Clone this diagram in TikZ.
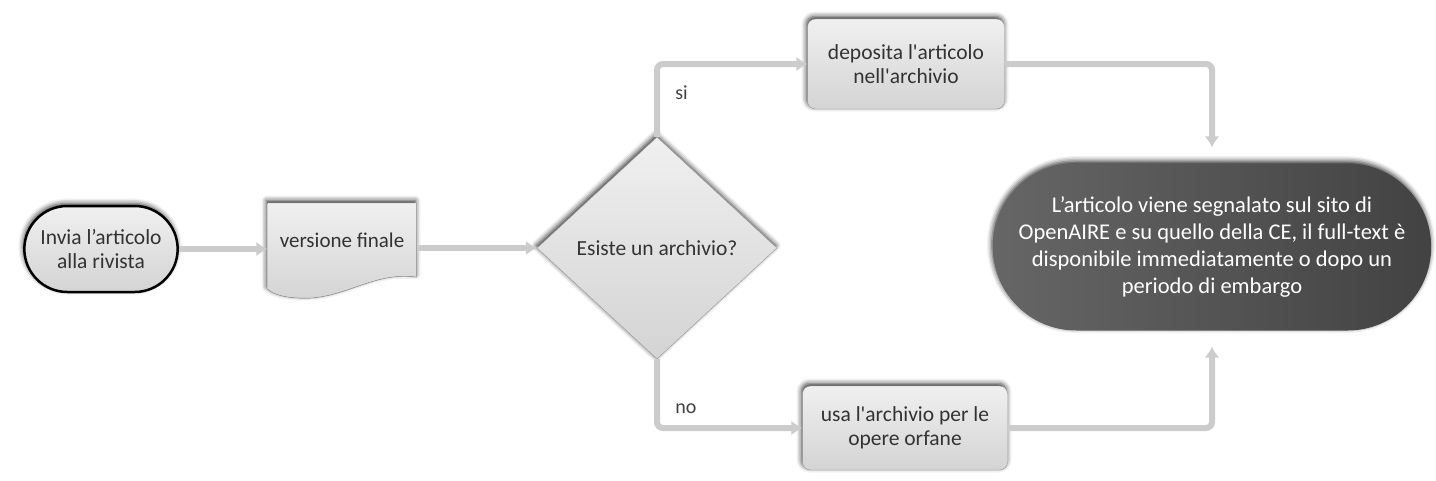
\documentclass[tikz,border=0pt]{standalone}
\usepackage{fontspec}
\setmainfont{Carlito}
\usetikzlibrary{arrows.meta,shapes.geometric,shapes.misc,positioning,shadows,shadows.blur,calc}
\tikzset{
    soft shadow/.style={blur shadow={shadow xshift=-1pt, shadow yshift=2.5pt, shadow blur radius=5pt, shadow opacity=80}},
    raw box/.style={thin, draw=black!40, align=center, font=\fontsize{21.5}{24.5}\selectfont, text=black!80, top color=black!6, bottom color=black!17, soft shadow},
    termbox/.style={raw box, rounded rectangle, draw=black, line width=2.5pt, minimum width=160pt, minimum height=86pt},
    procbox/.style={raw box, rectangle, rounded corners=8pt, minimum width=197pt, minimum height=90pt},
    decbox/.style={raw box, diamond, inner sep=0pt, minimum width=240pt, minimum height=222pt},
    docbox/.style={rectangle, align=center, font=\fontsize{21}{24.5}\selectfont, text=black!80, minimum width=149pt, minimum height=74pt},
    docfill/.style={thin, draw=black!40, top color=black!6, bottom color=black!17, soft shadow},
    endbox/.style={raw box, rounded rectangle, draw=none, text=white, left color=black!60, right color=black!74, minimum width=445pt, minimum height=167pt, font=\fontsize{22.5}{27}\selectfont},
    conn/.style={line width=6pt, draw=black!20, rounded corners=6pt, -{Latex[length=11pt,width=15pt]}},
    lab/.style={font=\fontsize{20}{24}\selectfont, text=black!75}
}
\begin{document}
\begin{tikzpicture}[x=1pt, y=-1pt]
    \useasboundingbox (0,0) rectangle (1436,480);
    \coordinate (finc) at (342,240);
    \fill[docfill] ($(finc)+(-74.5,-37)$) -- ($(finc)+(74.5,-37)$) -- ($(finc)+(74.5,37)$)
        .. controls ($(finc)+(30,31)$) and ($(finc)+(1,61)$) .. ($(finc)+(-44,58)$)
        .. controls ($(finc)+(-62,57)$) and ($(finc)+(-70,53)$) .. ($(finc)+(-74.5,49)$) -- cycle;
    \node[docbox] (fin) at (finc) {versione finale};
    \node[termbox] (inv) at (101,249) {Invia l’articolo\\alla rivista};
    \node[decbox] (dia) at (657,248) {Esiste un archivio?};
    \node[procbox] (dep) at (906,64) {deposita l\textquotesingle articolo\\nell\textquotesingle archivio};
    \node[procbox, minimum width=205pt, minimum height=84pt] (usa) at (905,428) {usa l\textquotesingle archivio per le\\opere orfane};
    \node[endbox] (endn) at (1212,247) {L’articolo viene segnalato sul sito di\\OpenAIRE e su quello della CE, il full-text è\\disponibile immediatamente o dopo un\\periodo di embargo};

    \draw[conn] (inv.east) -- (inv.east -| fin.west);
    \draw[conn] (dia.west -| fin.east) -- (dia.west);
    \draw[conn] (dia.north) |- node[lab, pos=0.3, right=12pt] {si} (dep.west);
    \draw[conn] (dia.south) |- node[lab, pos=0.36, right=12pt] {no} (usa.west);
    \draw[conn, shorten >=16pt] (dep.east) -| (endn.north);
    \draw[conn, shorten >=16pt] (usa.east) -| (endn.south);
\end{tikzpicture}
\end{document}
